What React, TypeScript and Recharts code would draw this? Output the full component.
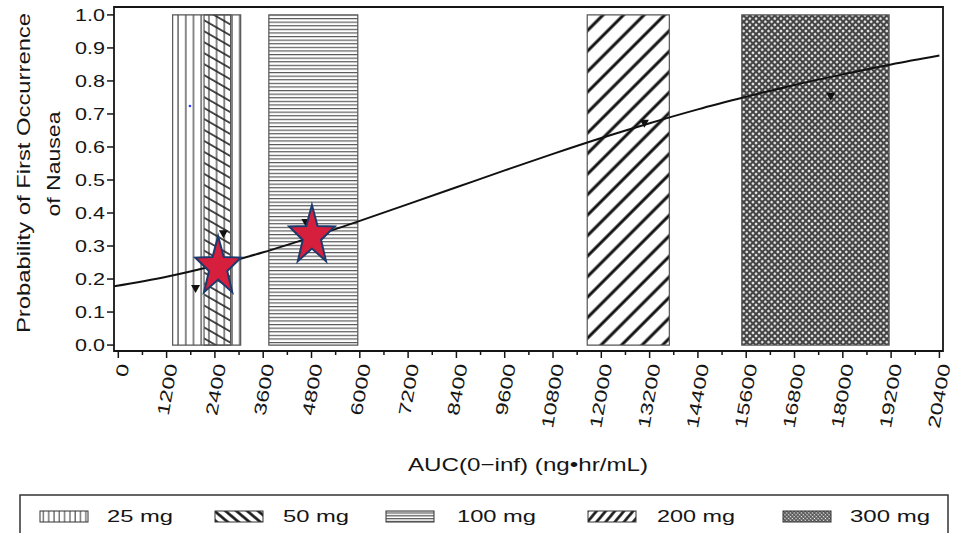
import React from "react";
import { ComposedChart, Line, Scatter, XAxis, YAxis, ReferenceArea } from "recharts";

// dose groups: AUC ranges covered by each band
const doseLabels = ["25 mg", "50 mg", "100 mg", "200 mg", "300 mg"];
const doseStart = [1350, 2130, 3740, 11650, 15490];
const doseEnd = [3040, 2790, 5950, 13690, 19150];

// fitted probability curve
const curveAuc = [-107, 1200, 2400, 3600, 4800, 6000, 7200, 8400, 9600, 10800, 12000, 13200, 14400, 15600, 16800, 18000, 19200, 20400];
const curveProb = [0.178, 0.207, 0.241, 0.281, 0.327, 0.376, 0.427, 0.478, 0.529, 0.579, 0.627, 0.672, 0.714, 0.752, 0.788, 0.82, 0.85, 0.877];

// observed proportions (down triangles)
const obsAuc = [1920, 2610, 4660, 13070, 17700];
const obsProb = [0.17, 0.336, 0.37, 0.67, 0.752];

// highlighted points (stars)
const starAuc = [2480, 4810];
const starProb = [0.236, 0.33];

// stray blue dot
const dotAuc = [1780];
const dotProb = [0.724];

const xTicks = [0, 1200, 2400, 3600, 4800, 6000, 7200, 8400, 9600, 10800, 12000, 13200, 14400, 15600, 16800, 18000, 19200, 20400];
const yTicks = [0, 0.1, 0.2, 0.3, 0.4, 0.5, 0.6, 0.7, 0.8, 0.9, 1.0];

const X_DOMAIN: [number, number] = [-107, 20489];
const Y_DOMAIN: [number, number] = [-0.018, 1.024];

const curveData = curveAuc.map((x, i) => ({ x, p: curveProb[i] }));
const obsData = obsAuc.map((x, i) => ({ x, p: obsProb[i] }));
const starData = starAuc.map((x, i) => ({ x, p: starProb[i] }));
const dotData = dotAuc.map((x, i) => ({ x, p: dotProb[i] }));
const allXTicks = xTicks.flatMap((t, i) => (i < xTicks.length - 1 ? [t, t + 600] : [t]));

const plotFill = ["url(#p25)", "url(#p50)", "url(#p100)", "url(#p200)", "url(#p300)"];
const legendFill = ["url(#l25)", "url(#l50)", "url(#l100)", "url(#l200)", "url(#l300)"];
const legendSwatchX = [40, 215, 386, 588, 783];
const legendTextX = [107, 283, 457, 657, 850];
const legendTextW = [66, 66, 79, 78, 80];

const INK = "#151515";
const FONT = "'Liberation Sans', Arial, sans-serif";

const XTick = (props: any) => {
  const { x, y, payload } = props;
  const v = payload.value;
  const major = v % 1200 === 0;
  return (
    <g>
      <line x1={x} x2={x} y1={y} y2={y + (major ? 7 : 4)} stroke={INK} strokeWidth={1.5} />
      {major && (
        <text
          transform={`translate(${x + 11},${y + 14}) rotate(-80)`}
          textAnchor="end"
          fontSize={17}
          fontFamily={FONT}
          fill={INK}
          textLength={13 * String(v).length}
          lengthAdjust="spacingAndGlyphs"
        >
          {v}
        </text>
      )}
    </g>
  );
};

const YTick = (props: any) => {
  const { x, y, payload } = props;
  return (
    <g>
      <line x1={x - 7} x2={x} y1={y} y2={y} stroke={INK} strokeWidth={1.5} />
      <text
        x={x - 9}
        y={y + 6}
        textAnchor="end"
        fontSize={17}
        fontFamily={FONT}
        fill={INK}
        textLength={30}
        lengthAdjust="spacingAndGlyphs"
      >
        {payload.value.toFixed(1)}
      </text>
    </g>
  );
};

const Triangle = (props: any) => {
  const { cx, cy } = props;
  if (cx == null || cy == null) return null;
  return <polygon points={`${cx - 4.5},${cy - 4} ${cx + 4.5},${cy - 4} ${cx},${cy + 4}`} fill="#111" />;
};

const Star = (props: any) => {
  const { cx, cy } = props;
  if (cx == null || cy == null) return null;
  const pts: string[] = [];
  for (let i = 0; i < 10; i++) {
    const r = i % 2 === 0 ? 1 : 0.4;
    const a = -Math.PI / 2 + (i * Math.PI) / 5;
    pts.push(`${cx + Math.cos(a) * r * 24},${cy + Math.sin(a) * r * 31}`);
  }
  return <polygon points={pts.join(" ")} fill="#d61f3d" stroke="#1d3a6c" strokeWidth={2} />;
};

const BlueDot = (props: any) => {
  const { cx, cy } = props;
  if (cx == null || cy == null) return null;
  return <circle cx={cx} cy={cy} r={1.3} fill="#2b3cff" />;
};

const Patterns = () => (
  <svg width={0} height={0} style={{ position: "absolute" }}>
    <defs>
      <pattern id="p25" patternUnits="userSpaceOnUse" width={7.7} height={10}>
        <line x1={1} x2={1} y1={0} y2={10} stroke="#4a4a4a" strokeWidth={1.3} />
      </pattern>
      <pattern id="p50" patternUnits="userSpaceOnUse" width={10} height={9.5} patternTransform="rotate(30)">
        <line x1={0} x2={10} y1={1} y2={1} stroke="#222" strokeWidth={1.6} />
      </pattern>
      <pattern id="p100" patternUnits="userSpaceOnUse" width={10} height={3.6}>
        <rect width={10} height={3.6} fill="#fff" />
        <line x1={0} x2={10} y1={0.6} y2={0.6} stroke="#4a4a4a" strokeWidth={1.1} />
      </pattern>
      <pattern id="p200" patternUnits="userSpaceOnUse" width={10} height={14.5} patternTransform="rotate(-45)">
        <rect width={10} height={14.5} fill="#fff" />
        <line x1={0} x2={10} y1={2} y2={2} stroke="#111" strokeWidth={3} />
      </pattern>
      <pattern id="p300" patternUnits="userSpaceOnUse" width={4.4} height={4.4} patternTransform="rotate(45)">
        <rect width={4.4} height={4.4} fill="#444" />
        <circle cx={2.2} cy={2.2} r={1.25} fill="#f4f4f4" />
      </pattern>

      <pattern id="l25" patternUnits="userSpaceOnUse" width={5.3} height={10}>
        <rect width={5.3} height={10} fill="#fff" />
        <line x1={1} x2={1} y1={0} y2={10} stroke="#333" strokeWidth={1} />
      </pattern>
      <pattern id="l50" patternUnits="userSpaceOnUse" width={10} height={7} patternTransform="rotate(40)">
        <rect width={10} height={7} fill="#fff" />
        <line x1={0} x2={10} y1={1.5} y2={1.5} stroke="#111" strokeWidth={2.6} />
      </pattern>
      <pattern id="l100" patternUnits="userSpaceOnUse" width={10} height={2.8}>
        <rect width={10} height={2.8} fill="#fff" />
        <line x1={0} x2={10} y1={0.7} y2={0.7} stroke="#333" strokeWidth={1} />
      </pattern>
      <pattern id="l200" patternUnits="userSpaceOnUse" width={10} height={7} patternTransform="rotate(-50)">
        <rect width={10} height={7} fill="#fff" />
        <line x1={0} x2={10} y1={1.5} y2={1.5} stroke="#111" strokeWidth={2.6} />
      </pattern>
      <pattern id="l300" patternUnits="userSpaceOnUse" width={2.6} height={2.6} patternTransform="rotate(45)">
        <rect width={2.6} height={2.6} fill="#555" />
        <circle cx={1.3} cy={1.3} r={0.75} fill="#fff" />
      </pattern>
    </defs>
  </svg>
);

export default function App() {
  return (
    <div style={{ position: "absolute", left: 0, top: 0, width: 961, height: 533, background: "#fff", overflow: "hidden" }}>
      <Patterns />
      <ComposedChart width={961} height={533} margin={{ top: 7, right: 18, bottom: 0, left: 0 }}>
        <XAxis
          type="number"
          dataKey="x"
          domain={X_DOMAIN}
          allowDataOverflow
          ticks={allXTicks}
          interval={0}
          tick={<XTick />}
          tickSize={0}
          tickMargin={0}
          tickLine={false}
          axisLine={false}
          height={182}
        />
        <YAxis
          type="number"
          dataKey="p"
          domain={Y_DOMAIN}
          allowDataOverflow
          ticks={yTicks}
          interval={0}
          tick={<YTick />}
          tickSize={0}
          tickMargin={0}
          tickLine={false}
          axisLine={false}
          width={114}
        />
        {doseLabels.map((d, i) => (
          <ReferenceArea
            key={d}
            x1={doseStart[i]}
            x2={doseEnd[i]}
            y1={0}
            y2={1}
            fill={plotFill[i]}
            fillOpacity={1}
            stroke="#555"
            strokeWidth={1.2}
          />
        ))}
        <ReferenceArea
          x1={X_DOMAIN[0]}
          x2={X_DOMAIN[1]}
          y1={Y_DOMAIN[0]}
          y2={Y_DOMAIN[1]}
          fill="none"
          fillOpacity={0}
          stroke={INK}
          strokeWidth={1.8}
        />
        <Line
          data={curveData}
          dataKey="p"
          type="monotone"
          stroke="#111"
          strokeWidth={2}
          dot={false}
          activeDot={false}
          isAnimationActive={false}
        />
        <Scatter data={obsData} dataKey="p" shape={<Triangle />} isAnimationActive={false} />
        <Scatter data={dotData} dataKey="p" shape={<BlueDot />} isAnimationActive={false} />
        <Scatter data={starData} dataKey="p" shape={<Star />} isAnimationActive={false} />
      </ComposedChart>

      <svg width={961} height={533} style={{ position: "absolute", left: 0, top: 0, pointerEvents: "none" }}>
        <g fontFamily={FONT} fill={INK}>
          <text
            transform="translate(30,173) rotate(-90)"
            textAnchor="middle"
            fontSize={18}
            textLength={320}
            lengthAdjust="spacingAndGlyphs"
          >
            Probability of First Occurrence
          </text>
          <text
            transform="translate(60,164) rotate(-90)"
            textAnchor="middle"
            fontSize={18}
            textLength={105}
            lengthAdjust="spacingAndGlyphs"
          >
            of Nausea
          </text>
          <text x={528} y={471} textAnchor="middle" fontSize={19} textLength={240} lengthAdjust="spacingAndGlyphs">
            AUC(0−inf)  (ng•hr/mL)
          </text>
        </g>
        <rect x={20} y={495} width={928} height={60} fill="none" stroke="#333" strokeWidth={1.5} />
        {doseLabels.map((d, i) => (
          <g key={d}>
            <rect x={legendSwatchX[i]} y={511} width={48} height={11} fill={legendFill[i]} stroke="#333" strokeWidth={1} />
            <text
              x={legendTextX[i]}
              y={522}
              fontSize={17}
              fontFamily={FONT}
              fill={INK}
              textLength={legendTextW[i]}
              lengthAdjust="spacingAndGlyphs"
            >
              {d}
            </text>
          </g>
        ))}
      </svg>
    </div>
  );
}
